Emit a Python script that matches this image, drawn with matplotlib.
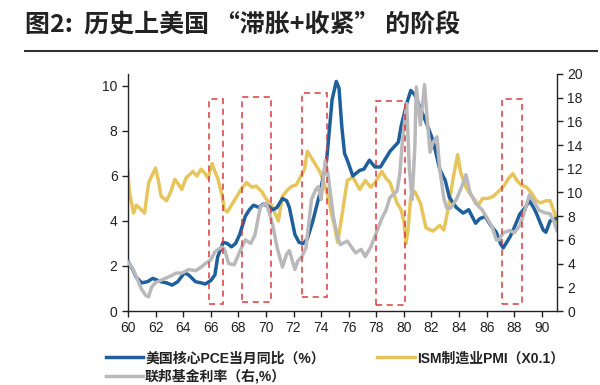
import matplotlib.pyplot as plt
from matplotlib.patches import Rectangle

plt.rcParams['font.family'] = ['Liberation Sans', 'Noto Sans CJK SC']

# core PCE yoy (left axis, %)
pce_x = [60.0, 60.3, 60.6, 61.0, 61.4, 61.8, 62.0, 62.4, 62.8, 63.2, 63.6, 64.1, 64.4, 64.9,
         65.3, 65.6, 66.0, 66.3, 66.5, 66.9, 67.2, 67.5, 67.8, 68.1, 68.5, 68.8, 69.1, 69.5,
         69.8, 70.2, 70.5, 70.8, 71.2, 71.5, 71.7, 72.1, 72.4, 72.7, 73.0, 73.4, 73.9, 74.4,
         74.8, 75.1, 75.3, 75.5, 75.7, 75.9, 76.3, 76.8, 77.1, 77.5, 77.9, 78.3, 78.6, 79.0,
         79.6, 79.8, 80.2, 80.5, 80.8, 81.2, 81.6, 82.1, 82.6, 83.0, 83.3, 83.8, 84.3, 84.7,
         85.2, 85.5, 85.9, 86.3, 86.7, 87.0, 87.2, 87.7, 88.0, 88.4, 88.8, 89.1, 89.4, 89.6,
         90.1, 90.3, 90.6, 91.0]
pce = [2.2, 1.9, 1.5, 1.25, 1.3, 1.45, 1.4, 1.3, 1.25, 1.15, 1.3, 1.7, 1.6, 1.3,
       1.25, 1.2, 1.35, 1.6, 2.4, 3.05, 3.0, 2.85, 3.0, 3.4, 4.2, 4.5, 4.7, 4.6,
       4.75, 4.65, 4.5, 4.6, 5.0, 4.9, 4.6, 3.4, 3.05, 3.0, 3.2, 4.0, 5.2, 6.7,
       9.4, 10.2, 9.9, 8.2, 7.0, 6.7, 6.0, 6.25, 6.3, 6.7, 6.4, 6.4, 6.7, 7.1,
       7.5, 8.2, 9.2, 9.8, 9.6, 9.0, 8.4, 7.6, 6.3, 5.8, 5.05, 4.6, 4.35, 4.5,
       3.9, 4.1, 4.2, 3.8, 3.5, 3.0, 2.8, 3.3, 3.7, 4.3, 4.6, 4.9, 4.6, 4.35,
       3.6, 3.5, 4.0, 4.1]

# ISM manufacturing PMI x0.1 (left axis)
pmi_x = [60.0, 60.1, 60.4, 60.6, 60.8, 61.2, 61.5, 61.8, 62.0, 62.2, 62.4, 62.8, 63.1, 63.4,
         63.7, 63.9, 64.2, 64.7, 65.0, 65.3, 65.6, 65.8, 66.1, 66.3, 66.5, 66.8, 67.0, 67.2,
         67.5, 67.9, 68.3, 68.6, 69.0, 69.3, 69.7, 70.0, 70.4, 70.9, 71.2, 71.6, 71.9, 72.2,
         72.5, 72.8, 73.0, 73.2, 73.6, 73.9, 74.1, 74.5, 74.8, 75.0, 75.2, 75.5, 75.9, 76.3,
         76.8, 77.2, 77.6, 77.9, 78.4, 78.7, 79.0, 79.5, 79.8, 80.0, 80.15, 80.3, 80.5, 80.8,
         81.2, 81.6, 82.1, 82.6, 82.9, 83.2, 83.6, 83.9, 84.1, 84.5, 84.8, 85.0, 85.4, 85.7,
         86.1, 86.5, 87.0, 87.3, 87.6, 87.9, 88.2, 88.5, 88.9, 89.3, 89.6, 89.9, 90.3, 90.6,
         90.9, 91.1]
pmi = [6.2, 5.3, 4.35, 4.7, 4.6, 4.35, 5.7, 6.1, 6.35, 5.8, 5.1, 4.9, 5.3, 5.85,
       5.6, 5.4, 5.9, 6.2, 6.0, 6.3, 6.1, 5.9, 6.55, 6.2, 5.9, 5.2, 4.5, 4.4,
       4.7, 5.1, 5.5, 5.7, 5.5, 5.55, 5.3, 5.0, 4.7, 4.0, 5.1, 5.4, 5.55, 5.6,
       5.95, 6.3, 7.1, 6.9, 6.5, 6.2, 5.9, 5.1, 4.2, 3.7, 3.05, 4.2, 5.8, 5.95,
       5.4, 5.8, 5.5, 5.7, 6.2, 5.9, 5.7, 4.8, 4.5, 4.0, 3.0, 3.6, 5.1, 5.3,
       4.8, 3.7, 3.55, 3.8, 3.6, 4.5, 6.0, 6.95, 6.2, 5.5, 5.2, 5.05, 4.7, 5.0,
       5.0, 5.1, 5.4, 5.6, 5.9, 6.1, 5.8, 5.6, 5.5, 5.2, 4.9, 4.8, 4.9, 4.9,
       4.4, 4.0]

# fed funds rate (right axis, %)
ff_x = [60.0, 60.3, 60.6, 61.0, 61.3, 61.5, 61.7, 62.0, 62.4, 63.0, 63.5, 63.9, 64.4, 64.9,
        65.3, 65.6, 66.0, 66.3, 66.8, 67.0, 67.3, 67.7, 68.1, 68.5, 68.9, 69.2, 69.6, 70.0,
        70.2, 70.5, 70.8, 71.2, 71.5, 71.7, 72.1, 72.3, 72.6, 72.9, 73.3, 73.6, 73.8, 74.0,
        74.3, 74.5, 74.9, 75.2, 75.4, 75.9, 76.5, 76.9, 77.2, 77.6, 78.0, 78.4, 78.7, 79.0,
        79.5, 79.7, 79.9, 80.2, 80.4, 80.6, 80.8, 80.9, 81.2, 81.5, 81.7, 81.9, 82.1, 82.4,
        82.6, 82.9, 83.1, 83.4, 83.8, 84.2, 84.5, 84.8, 85.2, 85.7, 86.0, 86.4, 86.7, 86.9,
        87.2, 87.7, 88.0, 88.4, 88.7, 89.1, 89.4, 89.8, 90.2, 90.6, 90.9, 91.1]
ff = [4.1, 3.7, 2.9, 1.8, 1.3, 1.2, 2.0, 2.4, 2.6, 2.9, 3.2, 3.2, 3.5, 3.4,
      3.7, 4.0, 4.3, 5.0, 5.4, 5.2, 4.0, 3.9, 5.0, 6.0, 5.7, 6.4, 8.8, 9.1,
      8.5, 7.2, 5.4, 3.7, 4.8, 5.1, 3.5, 4.2, 4.6, 5.3, 9.4, 10.2, 10.5, 9.4,
      12.7, 11.5, 7.9, 6.2, 5.6, 5.9, 4.9, 5.2, 4.6, 5.4, 6.6, 7.8, 8.5, 9.6,
      10.1, 11.5, 14.4, 17.5, 12.0, 9.4, 14.0, 18.9, 15.7, 19.1, 16.0, 13.4, 14.2, 14.7,
      12.0, 9.5, 8.7, 8.7, 9.4, 10.5, 11.5, 10.0, 9.1, 8.5, 7.9, 7.1, 6.0, 6.0,
      6.6, 6.8, 6.6, 7.2, 8.2, 9.8, 9.3, 8.5, 8.3, 8.2, 7.5, 6.8]

# "stagflation + tightening" windows (left-axis units)
box_start = [65.9, 68.3, 72.6, 78.0, 87.1]
box_end = [66.9, 70.4, 74.4, 80.1, 88.6]
box_bottom = [0.3, 0.4, 0.6, 0.25, 0.3]
box_top = [9.4, 9.5, 9.7, 9.35, 9.4]

blue = '#1f5f9c'
yellow = '#e6c65c'
grey = '#b9b9bb'
red = '#d93a3f'

fig = plt.figure(figsize=(6, 3.85), dpi=100)
ax = fig.add_axes([0.2133, 0.1922, 0.715, 0.6156])
ax2 = ax.twinx()

l1, = ax.plot(pce_x, pce, color=blue, lw=2.5, zorder=3)
l2, = ax.plot(pmi_x, pmi, color=yellow, lw=2.5, zorder=2)
l3, = ax2.plot(ff_x, ff, color=grey, lw=2.5, zorder=2)

for x0, x1, y0, y1 in zip(box_start, box_end, box_bottom, box_top):
    ax2.add_patch(Rectangle((x0, y0), x1 - x0, y1 - y0, transform=ax.transData,
                            fill=False, ec=red, lw=1.1, ls=(0, (4, 3)), zorder=5))

ax.set_xlim(60, 91.1)
ax.set_ylim(0, 10.53)
ax2.set_ylim(0, 20)
ax.set_xticks(range(60, 91, 2))
ax.set_yticks(range(0, 11, 2))
ax2.set_yticks(range(0, 21, 2))

for a in (ax, ax2):
    a.spines['top'].set_visible(False)
    for s in a.spines.values():
        s.set_linewidth(1.0)
        s.set_color('#222222')
    a.tick_params(labelsize=10, colors='#222222', length=4, width=1)
ax.spines['right'].set_visible(False)
ax2.spines['left'].set_visible(False)
ax2.spines['bottom'].set_visible(False)

fig.text(0.042, 0.915, '图2:  历史上美国 “滞胀+收紧” 的阶段', fontsize=18, fontweight='bold',
         color='#222222', family=['Noto Sans CJK SC'], va='baseline')
fig.add_artist(plt.Line2D([0.042, 0.995], [0.868, 0.868], color='#333333', lw=1.5))

leg = fig.legend([l1, l3, l2], ['美国核心PCE当月同比（%）', '联邦基金利率（右,%）', 'ISM制造业PMI（X0.1）'],
                 loc='upper left', bbox_to_anchor=(0.155, 0.12), ncol=2, frameon=False,
                 handlelength=2.7, handletextpad=0.15, columnspacing=3.8, labelspacing=0.25,
                 prop={'size': 10, 'weight': 'bold'})
for t in leg.get_texts():
    t.set_color('#222222')

fig.savefig('out.png', dpi=100)
